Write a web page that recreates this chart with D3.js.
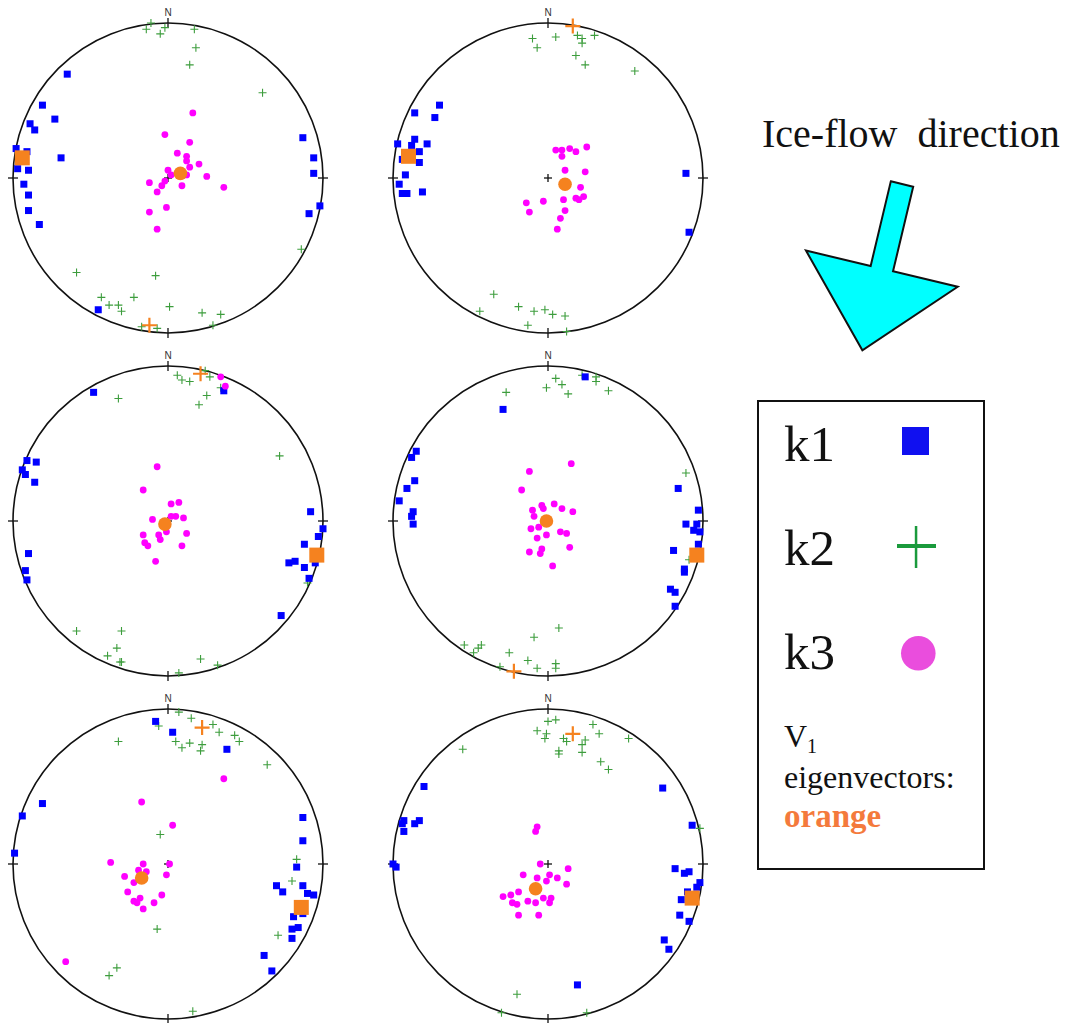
<!DOCTYPE html>
<html><head><meta charset="utf-8">
<script src="https://cdn.jsdelivr.net/npm/d3@7"></script>
<style>html,body{margin:0;padding:0;background:#fff;} svg{display:block;}</style>
</head><body>
<svg id="chart" width="1073" height="1023"></svg>
<script>
// Projected positions on each lower-hemisphere equal-area net,
// given as [east, north] in percent of the primitive-circle radius.
const net1K1 = [[-65,67],[-81,47],[-73,38],[-89,35],[-86,31],[-98,19],[-91,17],[-69,13],[-97,6],[-90,5],[-93,-4],[-90,-11],[-90,-21],[-83,-30],[-45,-85],[87,26],[94,13],[94,3],[98,-18],[91,-23]];
const net1K2 = [[-11,100],[-14,96],[-5,93],[-2,97],[17,96],[18,84],[14,73],[61,55],[86,-46],[-59,-61],[-8,-63],[-43,-77],[-38,-82],[-32,-82],[-30,-86],[-22,-77],[1,-83],[22,-87],[34,-88],[29,-95],[-17,-96],[-7,-97]];
const net1K3 = [[16,42],[-2,28],[14,23],[6,16],[12,14],[12,11],[14,7],[20,9],[0,5],[2,2],[12,2],[25,1],[36,-6],[-12,-3],[-2,-2],[-4,-5],[-7,-9],[9,-5],[-1,-19],[-12,-22],[-7,-33]];
const net1V1 = {k1:[-94,13], k2:[-12,-95], k3:[8,3]};

const net2K1 = [[-70,47],[-86,42],[-73,39],[-97,22],[-86,25],[-88,21],[-78,22],[-83,17],[-83,10],[-94,12],[-92,2],[-96,-4],[-94,-10],[-91,-10],[-81,-9],[89,3],[91,-35]];
const net2K2 = [[-10,90],[-7,84],[5,91],[19,92],[22,90],[22,87],[30,92],[18,79],[24,73],[56,69],[-35,-75],[-44,-86],[-19,-83],[-9,-86],[-2,-85],[3,-88],[11,-89],[-13,-95],[12,-99]];
const net2K3 = [[5,18],[9,18],[9,14],[14,19],[18,17],[25,20],[11,5],[24,4],[21,-6],[18,-13],[20,-14],[23,-12],[10,-14],[-3,-15],[-14,-16],[-12,-22],[11,-21],[8,-26],[6,-33]];
const net2V1 = {k1:[-90,14], k2:[16,98], k3:[11,-4]};

const net3K1 = [[-48,83],[36,84],[-91,39],[-85,38],[-94,33],[-92,30],[-86,25],[-90,-21],[-92,-32],[-91,-38],[92,6],[100,-5],[97,-10],[88,-15],[78,-27],[82,-26],[95,-27],[88,-30],[91,-37],[73,-61]];
const net3K2 = [[6,94],[9,91],[14,90],[24,97],[27,93],[25,81],[20,75],[34,86],[-32,79],[72,42],[90,-40],[-59,-71],[-30,-71],[-33,-82],[-39,-87],[-31,-91],[-30,-91],[21,-89],[32,-93],[7,-98]];
const net3K3 = [[34,93],[37,87],[-7,35],[-16,20],[2,11],[7,12],[2,3],[5,3],[10,2],[-10,1],[12,-8],[-1,-7],[-6,-9],[-5,-12],[-16,-9],[-15,-14],[-13,-16],[9,-16],[-8,-26]];
const net3V1 = {k1:[96,-22], k2:[21,95], k3:[-2,-2]};

const net4K1 = [[24,93],[-29,72],[-85,45],[-88,41],[-86,26],[-91,21],[-96,13],[-87,6],[-88,3],[-87,-2],[84,21],[97,7],[89,-2],[96,-2],[94,-6],[98,-7],[97,-15],[81,-19],[88,-31],[88,-33],[79,-44],[82,-46],[82,-55]];
const net4K2 = [[5,92],[-1,86],[9,88],[13,82],[22,94],[31,90],[31,93],[39,84],[-27,83],[89,31],[91,-25],[7,-69],[-9,-75],[-54,-80],[-48,-85],[-45,-82],[-43,-80],[-25,-85],[-13,-90],[-7,-95],[5,-92],[5,-95],[-31,-94]];
const net4K3 = [[15,37],[-12,32],[-17,20],[4,11],[-4,10],[-3,8],[-10,7],[9,8],[16,6],[-9,3],[-11,-5],[-6,-4],[-1,-9],[-7,-11],[8,-7],[12,-8],[14,-17],[-4,-18],[-12,-20],[-5,-21],[3,-29]];
const net4V1 = {k1:[96,-22], k2:[-22,-97], k3:[-1,0]};

const net5K1 = [[-8,92],[3,85],[38,74],[-81,39],[-94,31],[-99,7],[87,30],[87,15],[83,-2],[70,-14],[74,-18],[87,-14],[90,-19],[94,-20],[87,-32],[81,-34],[80,-42],[84,-41],[80,-48],[62,-59],[67,-69]];
const net5K2 = [[7,98],[15,94],[-6,89],[29,90],[33,85],[43,83],[46,79],[5,79],[9,75],[14,78],[22,77],[21,73],[-32,79],[64,64],[-5,19],[83,3],[80,-11],[71,-46],[-7,-42],[-33,-67],[-38,-72],[16,-95]];
const net5K3 = [[36,55],[-17,40],[3,25],[-37,1],[-16,0],[1,0],[-19,-4],[-14,-5],[-28,-8],[-22,-12],[-1,-7],[-26,-18],[-18,-22],[-22,-24],[-20,-25],[-16,-29],[-9,-25],[-4,-20],[-66,-63]];
const net5V1 = {k1:[86,-28], k2:[22,88], k3:[-17,-9]};

const net6K1 = [[-80,50],[-93,28],[-94,26],[-86,26],[-83,28],[-93,21],[-100,0],[-98,-2],[74,49],[93,25],[82,-3],[88,-6],[91,-5],[98,-12],[96,-15],[90,-18],[86,-23],[85,-33],[91,-37],[75,-49],[78,-55],[19,-78]];
const net6K2 = [[0,92],[5,93],[-7,86],[-1,84],[-2,81],[10,81],[12,79],[7,73],[7,71],[24,80],[22,77],[22,72],[29,90],[33,84],[52,81],[34,66],[39,61],[-55,74],[98,23],[-20,-84],[-30,-96],[25,-96]];
const net6K3 = [[-7,24],[-8,21],[-5,0],[13,-3],[-16,-7],[1,-7],[-7,-9],[6,-9],[-1,-11],[12,-13],[-19,-18],[-24,-20],[-29,-21],[-23,-25],[-20,-26],[-13,-24],[-8,-25],[-3,-22],[2,-22],[1,-25],[-19,-33],[-6,-33]];
const net6V1 = {k1:[93,-22], k2:[16,84], k3:[-8,-16]};

const legendLabels = ["k1","k2","k3"];
const titleText = "Ice-flow  direction";
const flowAzimuthTilt = 13.4; // arrow rotation from straight down, degrees

const nets = [
  {k1:net1K1,k2:net1K2,k3:net1K3,v:net1V1},
  {k1:net2K1,k2:net2K2,k3:net2K3,v:net2V1},
  {k1:net3K1,k2:net3K2,k3:net3K3,v:net3V1},
  {k1:net4K1,k2:net4K2,k3:net4K3,v:net4V1},
  {k1:net5K1,k2:net5K2,k3:net5K3,v:net5V1},
  {k1:net6K1,k2:net6K2,k3:net6K3,v:net6V1}
];

// ---- layout & style ----
const W = 1073, H = 1023;
const colX = [168, 548], rowY = [178, 521, 864], R = 155;
const C = {k1:"#0000ff", k2:"#3d9d3d", k3:"#ff00ff", v:"#f5821f"};

const svg = d3.select("#chart");
svg.append("rect").attr("width",W).attr("height",H).attr("fill","#fff");

nets.forEach((net,i)=>{
  const cx = colX[i%2], cy = rowY[Math.floor(i/2)];
  const x = d3.scaleLinear().domain([-100,100]).range([cx-R,cx+R]);
  const y = d3.scaleLinear().domain([-100,100]).range([cy+R,cy-R]);
  const g = svg.append("g");
  g.append("circle").attr("cx",x(0)).attr("cy",y(0)).attr("r",x(100)-x(0))
    .attr("fill","none").attr("stroke","#111").attr("stroke-width",1.6);
  const t = 5;
  const tk = [
    [x(0),y(100)-t,x(0),y(100)+t],[x(0),y(-100)-t,x(0),y(-100)+t],
    [x(-100)-t,y(0),x(-100)+t,y(0)],[x(100)-t,y(0),x(100)+t,y(0)],
    [x(0)-4,y(0),x(0)+4,y(0)],[x(0),y(0)-4,x(0),y(0)+4]
  ];
  g.selectAll("line.tk").data(tk).join("line").attr("class","tk")
    .attr("x1",d=>d[0]).attr("y1",d=>d[1]).attr("x2",d=>d[2]).attr("y2",d=>d[3])
    .attr("stroke","#111").attr("stroke-width",1.3);
  g.append("text").attr("x",x(0)).attr("y",y(100)-7).attr("text-anchor","middle")
    .attr("font-family","Liberation Sans, Arial, sans-serif").attr("font-size",10).attr("fill","#333").text("N");

  const cross = (s)=>`M${-s},0H${s}M0,${-s}V${s}`;
  g.selectAll("path.k2").data(net.k2).join("path").attr("class","k2")
    .attr("transform",d=>`translate(${x(d[0])},${y(d[1])})`).attr("d",cross(4))
    .attr("stroke",C.k2).attr("stroke-width",1.1).attr("fill","none");
  g.selectAll("rect.k1").data(net.k1).join("rect").attr("class","k1")
    .attr("x",d=>x(d[0])-3.5).attr("y",d=>y(d[1])-3.5).attr("width",7).attr("height",7).attr("fill",C.k1);
  g.selectAll("circle.k3").data(net.k3).join("circle").attr("class","k3")
    .attr("cx",d=>x(d[0])).attr("cy",d=>y(d[1])).attr("r",3.4).attr("fill",C.k3);
  // eigenvectors
  g.append("rect").attr("x",x(net.v.k1[0])-7.5).attr("y",y(net.v.k1[1])-7.5).attr("width",15).attr("height",15).attr("fill",C.v);
  g.append("path").attr("transform",`translate(${x(net.v.k2[0])},${y(net.v.k2[1])})`).attr("d",cross(7.5))
    .attr("stroke",C.v).attr("stroke-width",2.2).attr("fill","none");
  g.append("circle").attr("cx",x(net.v.k3[0])).attr("cy",y(net.v.k3[1])).attr("r",6.8).attr("fill",C.v);
});

// ---- title & arrow ----
svg.append("text").attr("x",762).attr("y",147).attr("font-family","Liberation Serif, Times New Roman, serif")
  .attr("font-size",40).attr("fill","#111").style("white-space","pre").text(titleText);

const arrowPts = [[-11.5,0],[11.5,0],[11.5,87],[78,87],[0,171],[-78,87],[-11.5,87]];
svg.append("path").attr("transform",`translate(902,184) rotate(${flowAzimuthTilt})`)
  .attr("d",d3.line()(arrowPts)+"Z").attr("fill","#00ffff").attr("stroke","#111").attr("stroke-width",2).attr("stroke-linejoin","miter");

// ---- legend ----
const lg = svg.append("g");
lg.append("rect").attr("x",758).attr("y",401).attr("width",226).attr("height",468)
  .attr("fill","#fff").attr("stroke","#111").attr("stroke-width",2);
const serif = "Liberation Serif, Times New Roman, serif";
const ly = d3.scalePoint().domain(legendLabels).range([461,669]);
lg.selectAll("text.lab").data(legendLabels).join("text").attr("class","lab")
  .attr("x",784).attr("y",d=>ly(d)).attr("font-family",serif).attr("font-size",51).attr("fill","#111").text(d=>d);
lg.append("rect").attr("x",902).attr("y",427).attr("width",27).attr("height",28).attr("fill","#1010f0");
lg.append("rect").attr("x",897).attr("y",544).attr("width",39).attr("height",4).attr("fill","#1a9a3c");
lg.append("rect").attr("x",914.8).attr("y",526).attr("width",2.5).attr("height",42).attr("fill","#1a9a3c");
lg.append("circle").attr("cx",918.3).attr("cy",653.3).attr("r",17.3).attr("fill","#ea4ddd");
const vt = lg.append("text").attr("x",784).attr("y",747).attr("font-family",serif).attr("font-size",32).attr("fill","#111");
vt.append("tspan").text("V");
vt.append("tspan").attr("font-size",20).attr("dy",6).text("1");
lg.append("text").attr("x",784).attr("y",788).attr("font-family",serif).attr("font-size",32).attr("fill","#111").text("eigenvectors:");
lg.append("text").attr("x",784).attr("y",827).attr("font-family",serif).attr("font-size",33).attr("font-weight","bold").attr("fill","#f47a3c").text("orange");
</script>
</body></html>
